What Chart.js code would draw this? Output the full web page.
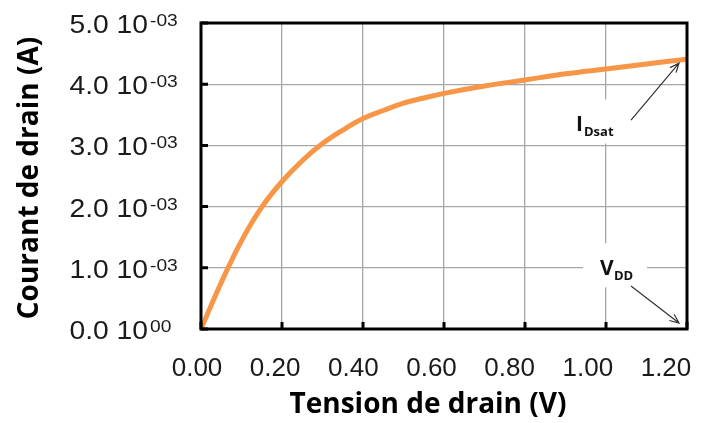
<!DOCTYPE html>
<html>
<head>
<meta charset="utf-8">
<script src="https://cdn.jsdelivr.net/npm/chart.js@4"></script>
<style>
  body { margin: 0; background: #fff; }
  canvas { display: block; }
</style>
</head>
<body>
<canvas id="ivChart" width="721" height="423"></canvas>
<script>
// Values
const voltage = [0, 0.05, 0.1, 0.15, 0.2, 0.25, 0.3, 0.35, 0.4, 0.45, 0.5, 0.55, 0.6, 0.7, 0.8, 0.9, 1.0, 1.1, 1.2];
const current = [0, 0.76e-3, 1.44e-3, 1.99e-3, 2.41e-3, 2.75e-3, 3.03e-3, 3.25e-3, 3.44e-3, 3.57e-3,
                 3.69e-3, 3.775e-3, 3.85e-3, 3.97e-3, 4.07e-3, 4.17e-3, 4.25e-3, 4.33e-3, 4.41e-3];

const xTicks = [0, 0.2, 0.4, 0.6, 0.8, 1.0, 1.2];
const xTickLabels = ["0.00", "0.20", "0.40", "0.60", "0.80", "1.00", "1.20"];
const yTicks = [0, 1e-3, 2e-3, 3e-3, 4e-3, 5e-3];
const yTickMantissa = ["0.0", "1.0", "2.0", "3.0", "4.0", "5.0"];
const yTickExponent = ["00", "-03", "-03", "-03", "-03", "-03"];

const xTitle = "Tension de drain (V)";
const yTitle = "Courant de drain (A)";

const ctx = document.getElementById("ivChart").getContext("2d");

function arrow(c, x1, y1, x2, y2){
    const a = Math.atan2(y2 - y1, x2 - x1), h = 10;
    c.beginPath();
    c.moveTo(x1, y1); c.lineTo(x2, y2);
    c.moveTo(x2 - h*Math.cos(a - 0.4), y2 - h*Math.sin(a - 0.4));
    c.lineTo(x2, y2);
    c.lineTo(x2 - h*Math.cos(a + 0.4), y2 - h*Math.sin(a + 0.4));
    c.stroke();
}

// stretched text, the y labels look wider than plain Arial
function wideText(c, txt, x, y, sx){
    c.save();
    c.translate(x, y);
    c.scale(sx, 1);
    c.fillText(txt, 0, 0);
    c.restore();
}

// frame, inward ticks, labels, titles and annotations
const decor = {
    id: "decor",
    beforeDatasetsDraw(chart){
        const c = chart.ctx, xs = chart.scales.x, ys = chart.scales.y;
        // white label boxes cut the grid
        const tipX = xs.getPixelForValue(voltage[voltage.length-1]);
        c.save();
        c.fillStyle = "#fff";
        c.fillRect(tipX - 118, ys.getPixelForValue(3.75e-3), 52, 44);
        c.fillRect(tipX - 104, ys.getPixelForValue(1.4e-3), 64, 44);
        c.restore();
    },
    afterDraw(chart){
        const c = chart.ctx, a = chart.chartArea, xs = chart.scales.x, ys = chart.scales.y;
        c.save();
        c.strokeStyle = "#000";
        c.lineWidth = 3;
        c.strokeRect(a.left, a.top, a.right - a.left, a.bottom - a.top);
        // inward tick marks
        c.beginPath();
        yTicks.forEach(v => { const y = ys.getPixelForValue(v); c.moveTo(a.left, y); c.lineTo(a.left + 7, y); });
        xTicks.forEach(v => { const x = xs.getPixelForValue(v); c.moveTo(x, a.bottom); c.lineTo(x, a.bottom - 7); });
        c.stroke();

        // x tick labels
        c.fillStyle = "#1a1a1a";
        c.font = "26px 'Liberation Sans'";
        c.textAlign = "center";
        c.textBaseline = "alphabetic";
        xTicks.forEach((v, i) => {
            const x = a.left + (xs.getPixelForValue(v) - a.left) * 0.965 - 4;
            c.fillText(xTickLabels[i], x, a.bottom + 47);
        });

        // y tick labels with superscript exponent
        yTicks.forEach((v, i) => {
            const y = ys.getPixelForValue(v);
            c.font = "25px 'Liberation Sans'";
            c.textAlign = "right";
            wideText(c, yTickMantissa[i] + " 10", a.left - 53, y + 10, 1.13);
            c.font = "17px 'Liberation Sans'";
            c.textAlign = "left";
            wideText(c, yTickExponent[i], a.left - 51, y + 3, 1.13);
        });

        // axis titles
        c.fillStyle = "#000";
        c.font = "bold 28px 'Open Sans'";
        c.textAlign = "center";
        c.fillText(xTitle, (a.left + a.right) / 2 - 16, a.bottom + 84);
        c.save();
        c.translate(38, (a.top + a.bottom) / 2 + 2);
        c.rotate(-Math.PI / 2);
        c.fillText(yTitle, 0, 0);
        c.restore();

        // annotations
        const endX = xs.getPixelForValue(voltage[voltage.length-1]);
        const endY = ys.getPixelForValue(current[current.length-1]);
        const zeroY = ys.getPixelForValue(0);
        c.fillStyle = "#111";
        c.textAlign = "left";
        c.font = "bold 21px 'Open Sans'";
        c.fillText("I", endX - 111, 131);
        c.font = "bold 13px 'Open Sans'";
        c.fillText("Dsat", endX - 103, 136);
        c.font = "bold 21px 'Open Sans'";
        c.fillText("V", endX - 87, 275);
        c.font = "bold 13px 'Open Sans'";
        c.fillText("DD", endX - 73, 280);

        c.strokeStyle = "#333";
        c.lineWidth = 1.2;
        arrow(c, endX - 56, endY + 61, endX - 8, endY + 4);
        arrow(c, endX - 56, zeroY - 43, endX - 8, zeroY - 6);
        c.restore();
    }
};

new Chart(ctx, {
    type: "line",
    data: {
        datasets: [{
            data: voltage.map((v, i) => ({ x: v, y: current[i] })),
            borderColor: "#F79646",
            borderWidth: 5,
            pointRadius: 0,
            tension: 0.4,
            fill: false
        }]
    },
    options: {
        responsive: false,
        animation: false,
        layout: { padding: { left: 201, top: 23, right: 34, bottom: 94 } },
        plugins: { legend: { display: false }, tooltip: { enabled: false } },
        scales: {
            x: {
                type: "linear", min: 0, max: 1.2,
                ticks: { stepSize: 0.2, display: false },
                grid: { color: "#a6a6a6", lineWidth: 1.3, drawTicks: false },
                border: { display: false }
            },
            y: {
                min: 0, max: 0.005,
                ticks: { stepSize: 0.001, display: false },
                grid: { color: "#a6a6a6", lineWidth: 1.3, drawTicks: false },
                border: { display: false }
            }
        }
    },
    plugins: [decor]
});
</script>
</body>
</html>
